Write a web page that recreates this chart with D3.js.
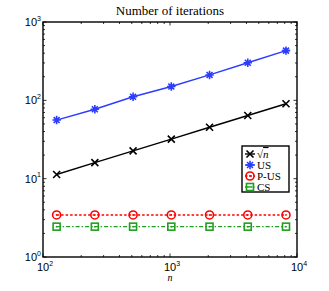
<!DOCTYPE html>
<html>
<head>
<meta charset="utf-8">
<script src="https://cdn.jsdelivr.net/npm/d3@7"></script>
<style>
body { margin: 0; background: #fff; }
svg { display: block; }
</style>
</head>
<body>
<svg id="chart"></svg>
<script>
// problem sizes and iteration counts
var sizes = [128, 256, 512, 1024, 2048, 4096, 8192];
var sqrtN = [11.3, 16, 22.6, 32, 45.3, 64, 90.5];
var us = [56, 77, 111, 150, 211, 302, 431];
var pus = [3.44, 3.44, 3.44, 3.44, 3.44, 3.44, 3.44];
var cs = [2.44, 2.44, 2.44, 2.44, 2.44, 2.44, 2.44];
var seriesNames = ['sqrt', 'US', 'P-US', 'CS'];

var W = 329, H = 291;
var margin = {left: 43, right: 32, top: 22, bottom: 34};

var svg = d3.select('#chart').attr('width', W).attr('height', H);

var x = d3.scaleLog().domain([1e2, 1e4]).range([margin.left, W - margin.right]);
var y = d3.scaleLog().domain([1e0, 1e3]).range([H - margin.bottom, margin.top]);

var series = [
    {name: 'sqrt', values: sqrtN, color: '#000000', marker: 'x', dash: null},
    {name: 'US', values: us, color: '#2b3cff', marker: 'star', dash: null},
    {name: 'P-US', values: pus, color: '#ff0000', marker: 'circle', dash: '2.5,2'},
    {name: 'CS', values: cs, color: '#1f9f1f', marker: 'square', dash: '4,2,1.5,2'}
];

// title
svg.append('text')
    .attr('x', (x.range()[0] + x.range()[1]) / 2)
    .attr('y', 15)
    .attr('text-anchor', 'middle')
    .style('font-family', 'Liberation Serif, serif')
    .style('font-size', '13px')
    .text('Number of iterations');

// ticks (inside, on all four sides)
var x0 = x.range()[0], x1 = x.range()[1], y0 = y.range()[0], y1 = y.range()[1];
var axisG = svg.append('g').attr('stroke', '#000').attr('stroke-width', 0.8);

var xMinor = [], yMinor = [];
for (var p = 2; p < 4; p++) for (var k = 2; k < 10; k++) xMinor.push(k * Math.pow(10, p));
for (var p = 0; p < 3; p++) for (var k = 2; k < 10; k++) yMinor.push(k * Math.pow(10, p));
var xMajor = [1e2, 1e3, 1e4], yMajor = [1e0, 1e1, 1e2, 1e3];

function xTick(v, len) {
    axisG.append('line').attr('x1', x(v)).attr('x2', x(v)).attr('y1', y0).attr('y2', y0 - len);
    axisG.append('line').attr('x1', x(v)).attr('x2', x(v)).attr('y1', y1).attr('y2', y1 + len);
}
function yTick(v, len) {
    axisG.append('line').attr('y1', y(v)).attr('y2', y(v)).attr('x1', x0).attr('x2', x0 + len);
    axisG.append('line').attr('y1', y(v)).attr('y2', y(v)).attr('x1', x1).attr('x2', x1 - len);
}
xMinor.forEach(function (v) { xTick(v, 2); });
xMajor.forEach(function (v) { xTick(v, 3.5); });
yMinor.forEach(function (v) { yTick(v, 2); });
yMajor.forEach(function (v) { yTick(v, 3.5); });

// tick labels
function powLabel(g, v, px, py, anchor) {
    var t = g.append('text')
        .attr('x', px).attr('y', py)
        .attr('text-anchor', anchor)
        .style('font-family', 'Liberation Sans, Arial, sans-serif')
        .style('font-size', '11px');
    t.append('tspan').text('10');
    t.append('tspan').attr('dy', -5.5).style('font-size', '7px').text(Math.round(Math.log10(v)));
}
var labG = svg.append('g');
xMajor.forEach(function (v) { powLabel(labG, v, x(v) + 2, y0 + 14, 'middle'); });
yMajor.forEach(function (v) { powLabel(labG, v, x0 - 2, y(v) + 4, 'end'); });

svg.append('text')
    .attr('x', (x0 + x1) / 2)
    .attr('y', y0 + 24)
    .attr('text-anchor', 'middle')
    .style('font-family', 'Liberation Serif, serif')
    .style('font-style', 'italic')
    .style('font-size', '10px')
    .text('n');

// markers
function drawMarker(g, m, cx, cy, color) {
    if (m === 'x') {
        g.append('path').attr('d', 'M' + (cx - 3.5) + ',' + (cy - 3.5) + 'L' + (cx + 3.5) + ',' + (cy + 3.5) +
            'M' + (cx - 3.5) + ',' + (cy + 3.5) + 'L' + (cx + 3.5) + ',' + (cy - 3.5))
            .attr('stroke', color).attr('stroke-width', 1.6).attr('fill', 'none');
    } else if (m === 'star') {
        var r = 4.2, d = '';
        for (var a = 0; a < 4; a++) {
            var ang = a * Math.PI / 4;
            d += 'M' + (cx - r * Math.cos(ang)) + ',' + (cy - r * Math.sin(ang)) +
                'L' + (cx + r * Math.cos(ang)) + ',' + (cy + r * Math.sin(ang));
        }
        g.append('path').attr('d', d).attr('stroke', color).attr('stroke-width', 1.6).attr('fill', 'none');
    } else if (m === 'circle') {
        g.append('circle').attr('cx', cx).attr('cy', cy).attr('r', 4)
            .attr('stroke', color).attr('stroke-width', 1.6).attr('fill', 'none');
        g.append('circle').attr('cx', cx).attr('cy', cy).attr('r', 0.9).attr('fill', color);
    } else if (m === 'square') {
        g.append('rect').attr('x', cx - 3.5).attr('y', cy - 3.5).attr('width', 7).attr('height', 7)
            .attr('stroke', color).attr('stroke-width', 1.6).attr('fill', 'none');
        g.append('circle').attr('cx', cx).attr('cy', cy).attr('r', 0.9).attr('fill', color);
    }
}

var line = d3.line()
    .x(function (d, i) { return x(sizes[i]); })
    .y(function (d) { return y(d); });

series.forEach(function (s) {
    var g = svg.append('g');
    g.append('path')
        .attr('d', line(s.values))
        .attr('fill', 'none')
        .attr('stroke', s.color)
        .attr('stroke-width', 1.4)
        .attr('stroke-dasharray', s.dash);
    s.values.forEach(function (v, i) { drawMarker(g, s.marker, x(sizes[i]), y(v), s.color); });
});

// frame
svg.append('rect')
    .attr('x', x0).attr('y', y1)
    .attr('width', x1 - x0).attr('height', y0 - y1)
    .attr('fill', 'none').attr('stroke', '#000').attr('stroke-width', 1.4);

// legend
var lg = svg.append('g');
var lx = 242, ly = 146, lw = 47, lh = 46;
lg.append('rect').attr('x', lx).attr('y', ly).attr('width', lw).attr('height', lh)
    .attr('fill', '#fff').attr('stroke', '#000').attr('stroke-width', 1.4);
series.forEach(function (s, i) {
    var cy = ly + 8 + i * 11;
    lg.append('line').attr('x1', lx + 3).attr('x2', lx + 13).attr('y1', cy).attr('y2', cy)
        .attr('stroke', s.color).attr('stroke-width', 1.4).attr('stroke-dasharray', s.dash);
    drawMarker(lg, s.marker, lx + 8, cy, s.color);
    var t = lg.append('text').attr('x', lx + 15).attr('y', cy + 4)
        .style('font-family', 'Liberation Serif, serif')
        .style('font-size', '11px');
    if (s.name === 'sqrt') {
        t.append('tspan').text('\u221A');
        t.append('tspan').style('font-style', 'italic').style('text-decoration', 'overline').text('n');
    } else {
        t.text(s.name);
    }
});
</script>
</body>
</html>
